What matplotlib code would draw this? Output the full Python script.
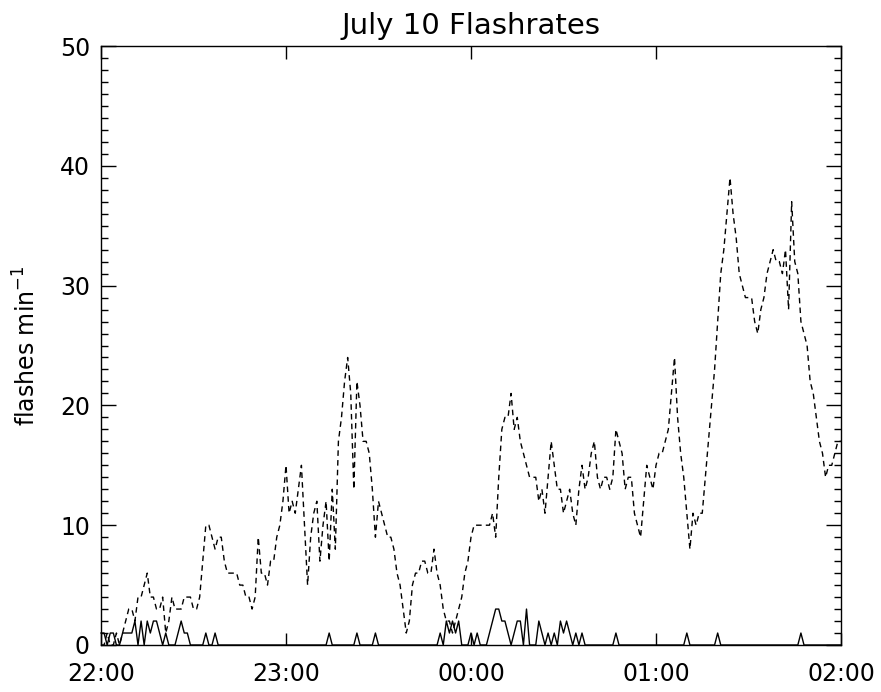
import matplotlib
matplotlib.use("Agg")
import matplotlib.pyplot as plt
from matplotlib.ticker import MultipleLocator

# minutes after 22:00 (one value per minute, 0..240)
minutes = list(range(241))

total_rate = [
    0, 0, 1, 0, 0, 1, 0, 1, 2, 3,      # 0-9
    3, 2, 4, 4, 5, 6, 4, 4, 3, 3,      # 10-19
    4, 1, 2, 4, 3, 3, 3, 4, 4, 4,      # 20-29
    3, 3, 4, 7, 10, 10, 9, 8, 9, 9,    # 30-39
    7, 6, 6, 6, 6, 5, 5, 4, 4, 3,      # 40-49
    4, 9, 6, 6, 5, 7, 7, 9, 10, 12,    # 50-59
    15, 11, 12, 11, 13, 15, 10, 5, 9, 11,  # 60-69
    12, 7, 10, 12, 7, 13, 8, 17, 19, 22,   # 70-79
    24, 21, 13, 22, 20, 17, 17, 16, 13, 9, # 80-89
    12, 11, 10, 9, 9, 8, 6, 5, 3, 1,       # 90-99
    2, 5, 6, 6, 7, 7, 6, 6, 8, 6,          # 100-109
    5, 3, 2, 2, 1, 2, 3, 4, 6, 7,          # 110-119
    9, 10, 10, 10, 10, 10, 10, 11, 9, 14,  # 120-129
    18, 19, 19, 21, 18, 19, 17, 16, 15, 14,  # 130-139
    14, 14, 12, 13, 11, 14, 17, 15, 13, 13,  # 140-149
    11, 12, 13, 11, 10, 13, 15, 13, 14, 16,  # 150-159
    17, 14, 13, 14, 14, 13, 14, 18, 17, 16,  # 160-169
    13, 14, 14, 11, 10, 9, 12, 15, 14, 13,   # 170-179
    15, 16, 16, 17, 18, 21, 24, 19, 16, 14,  # 180-189
    11, 8, 11, 10, 11, 11, 14, 17, 20, 23,   # 190-199
    27, 31, 33, 36, 39, 36, 34, 31, 30, 29,  # 200-209
    29, 29, 27, 26, 28, 29, 31, 32, 33, 32,  # 210-219
    32, 31, 33, 28, 37, 32, 31, 27, 26, 25,  # 220-229
    22, 21, 19, 17, 16, 14, 15, 15, 16, 17,  # 230-239
    17,                                       # 240
]

cg_rate = [
    1, 1, 0, 1, 1, 0, 0, 1, 1, 1,
    1, 2, 0, 2, 0, 2, 1, 2, 2, 1,
    0, 1, 0, 0, 0, 1, 2, 1, 1, 0,
    0, 0, 0, 0, 1, 0, 0, 1, 0, 0,
    0, 0, 0, 0, 0, 0, 0, 0, 0, 0,
    0, 0, 0, 0, 0, 0, 0, 0, 0, 0,
    0, 0, 0, 0, 0, 0, 0, 0, 0, 0,
    0, 0, 0, 0, 1, 0, 0, 0, 0, 0,
    0, 0, 0, 1, 0, 0, 0, 0, 0, 1,
    0, 0, 0, 0, 0, 0, 0, 0, 0, 0,
    0, 0, 0, 0, 0, 0, 0, 0, 0, 0,
    1, 0, 2, 1, 2, 1, 2, 0, 0, 0,
    1, 0, 1, 0, 0, 0, 1, 2, 3, 3,
    2, 2, 1, 0, 1, 2, 2, 0, 3, 0,
    0, 0, 2, 1, 0, 1, 0, 1, 0, 2,
    1, 2, 1, 0, 1, 0, 1, 0, 0, 0,
    0, 0, 0, 0, 0, 0, 0, 1, 0, 0,
    0, 0, 0, 0, 0, 0, 0, 0, 0, 0,
    0, 0, 0, 0, 0, 0, 0, 0, 0, 0,
    1, 0, 0, 0, 0, 0, 0, 0, 0, 0,
    1, 0, 0, 0, 0, 0, 0, 0, 0, 0,
    0, 0, 0, 0, 0, 0, 0, 0, 0, 0,
    0, 0, 0, 0, 0, 0, 0, 1, 0, 0,
    0, 0, 0, 0, 0, 0, 0, 0, 0, 0,
    0,
]

hour_ticks = [0, 60, 120, 180, 240]
hour_labels = ["22:00", "23:00", "00:00", "01:00", "02:00"]

plt.rcParams['font.family'] = ['DejaVu Sans']

W, H = 881, 692
fig = plt.figure(figsize=(W / 100, H / 100), dpi=100)
ax = fig.add_axes([101 / W, 1 - 645 / H, 740 / W, 599 / H])

ax.plot(minutes, total_rate, color="black", linewidth=1.0,
        linestyle=(0, (4, 3)), clip_on=False)
ax.plot(minutes, cg_rate, color="black", linewidth=1.0, clip_on=False)

ax.set_xlim(0, 240)
ax.set_ylim(0, 50)
ax.set_xticks(hour_ticks)
ax.set_xticklabels(hour_labels)
ax.yaxis.set_major_locator(MultipleLocator(10))
ax.yaxis.set_minor_locator(MultipleLocator(1))

ax.tick_params(axis="x", which="major", direction="in", top=True, bottom=True,
               length=9, width=1.0, labelsize=17, pad=12, colors="black")
ax.tick_params(axis="y", which="major", direction="in", left=True, right=True,
               length=11, width=1.0, labelsize=17, pad=8)
ax.tick_params(axis="y", which="minor", direction="in", left=True, right=True,
               length=5, width=1.0)
ax.tick_params(axis="x", which="minor", bottom=False, top=False)

for sp in ax.spines.values():
    sp.set_linewidth(1.0)

ax.set_ylabel("flashes min$^{-1}$", fontsize=17, labelpad=14)
ax.set_title("July 10 Flashrates", fontsize=21, pad=9)

fig.savefig("out.png", dpi=100)
